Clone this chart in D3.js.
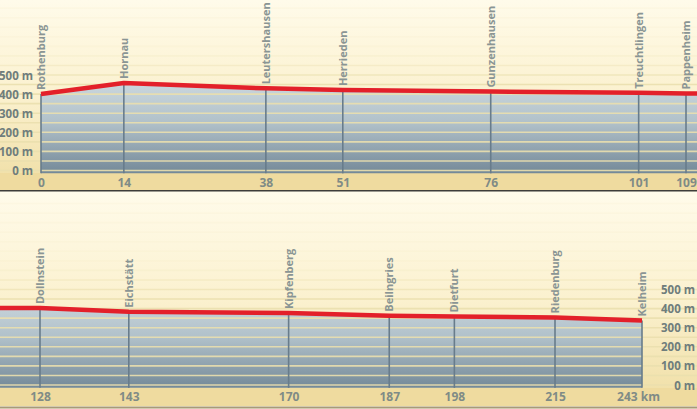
<!DOCTYPE html>
<html>
<head>
<meta charset="utf-8">
<script src="https://cdn.jsdelivr.net/npm/d3@7"></script>
<style>
  html, body { margin: 0; padding: 0; background: #fdf8e6; }
  svg { display: block; }
  text { font-family: "Open Sans", "Noto Sans", sans-serif; font-weight: 700; }
</style>
</head>
<body>
<svg id="chart" width="697" height="409"></svg>
<script>
// ---- data ----
const stations = ["Rothenburg","Hornau","Leutershausen","Herrieden","Gunzenhausen","Treuchtlingen","Pappenheim",
                  "Dollnstein","Eichstätt","Kipfenberg","Beilngries","Dietfurt","Riedenburg","Kelheim"];
const km        = [0, 14, 38, 51, 76, 101, 109, 128, 143, 170, 187, 198, 215, 243];
const elevation = [400, 458, 430, 421, 413, 407, 403, 403, 384, 377, 363, 358, 354, 338];
const elevTicks = [0, 100, 200, 300, 400, 500];
const stripeLevels = d3.range(0, 951, 50);
const topKm = [0, 14, 38, 51, 76, 101, 109];
const bottomKm = [128, 143, 170, 187, 198, 215, 243];

const points = stations.map((s, i) => ({ name: s, km: km[i], elev: elevation[i] }));

const W = 697;
const svg = d3.select("#chart");
const defs = svg.append("defs");

const panels = [
  { id: "top", y0: 0, y1: 190, xDomain: [0, 109], xRange: [41, 686],
    yRange: [170.5, 75], ticks: topKm, axisSide: "left", axisX: 33, tickY: 183,
    band: [173, 190], stations: topKm },
  { id: "bot", y0: 192, y1: 406, xDomain: [128, 215, 243], xRange: [40, 555, 642],
    yRange: [385, 289.5], ticks: bottomKm, axisSide: "right", axisX: 695, tickY: 397,
    band: [388, 406], stations: bottomKm }
];

panels.forEach(p => {
  const x = d3.scaleLinear().domain(p.xDomain).range(p.xRange);
  const y = d3.scaleLinear().domain([0, 500]).range(p.yRange);
  const base = -15;

  // gradients
  const bg = defs.append("linearGradient").attr("id", "bg-" + p.id)
    .attr("gradientUnits", "userSpaceOnUse").attr("x1", 0).attr("x2", 0)
    .attr("y1", p.y0).attr("y2", p.band[0]);
  bg.append("stop").attr("offset", 0).attr("stop-color", "#fffbea");
  bg.append("stop").attr("offset", 0.55).attr("stop-color", "#fbf1cf");
  bg.append("stop").attr("offset", 1).attr("stop-color", "#f1e1ab");

  const fg = defs.append("linearGradient").attr("id", "fill-" + p.id)
    .attr("gradientUnits", "userSpaceOnUse").attr("x1", 0).attr("x2", 0)
    .attr("y1", y(470)).attr("y2", y(base));
  fg.append("stop").attr("offset", 0).attr("stop-color", "#ccd8de");
  fg.append("stop").attr("offset", 0.45).attr("stop-color", "#b1c1ca");
  fg.append("stop").attr("offset", 1).attr("stop-color", "#748998");

  defs.append("clipPath").attr("id", "clip-" + p.id)
    .append("rect").attr("x", 0).attr("y", p.y0).attr("width", W).attr("height", p.y1 - p.y0);

  const g = svg.append("g").attr("clip-path", `url(#clip-${p.id})`);

  g.append("rect").attr("x", 0).attr("y", p.y0).attr("width", W).attr("height", p.y1 - p.y0)
    .attr("fill", `url(#bg-${p.id})`);
  // axis band
  g.append("rect").attr("x", 0).attr("y", p.band[0]).attr("width", W).attr("height", p.band[1] - p.band[0])
    .attr("fill", "#efdb9f");

  // area
  const area = d3.area().x(d => x(d.km)).y0(y(base)).y1(d => y(d.elev));
  const pts = p.id === "top" ? points.filter(d => d.km <= 128) : points.filter(d => d.km >= 109);
  g.append("path").datum(pts).attr("d", area).attr("fill", `url(#fill-${p.id})`);

  // stripes every 50 m
  g.selectAll("line.stripe").data(stripeLevels.filter(v => y(v) > p.y0)).join("line")
    .attr("class", "stripe")
    .attr("x1", 0).attr("x2", W)
    .attr("y1", d => y(d)).attr("y2", d => y(d))
    .attr("stroke", "#eadfae")
    .attr("stroke-width", 1.6)
    .attr("stroke-opacity", d => d <= 450 ? 0.9 : Math.max(0.1, 0.85 - (d - 450) / 220));

  // vertical station lines
  const st = points.filter(d => p.stations.includes(d.km));
  g.selectAll("line.vl").data(st).join("line")
    .attr("class", "vl")
    .attr("x1", d => x(d.km)).attr("x2", d => x(d.km))
    .attr("y1", d => y(d.elev)).attr("y2", y(base))
    .attr("stroke", "#687c8b").attr("stroke-width", 1.6);

  // profile line
  const line = d3.line().x(d => x(d.km)).y(d => y(d.elev));
  g.append("path").datum(pts).attr("d", line)
    .attr("fill", "none").attr("stroke", "#e3202a").attr("stroke-width", 4.5)
    .attr("stroke-linejoin", "round");

  // station names
  g.selectAll("text.st").data(st).join("text")
    .attr("class", "st")
    .attr("transform", d => `translate(${x(d.km)},${y(d.elev) - 4}) rotate(-90)`)
    .attr("dy", "0.36em")
    .attr("text-anchor", "start")
    .attr("font-size", 11)
    .attr("fill", "#8a9594")
    .text(d => d.name);

  // km axis
  const xa = d3.axisBottom(x).tickValues(p.ticks).tickSize(0).tickPadding(0)
    .tickFormat(d => d === 243 ? "243 km" : d);
  const gx = g.append("g").attr("transform", `translate(0,${p.tickY})`).call(xa);
  gx.select(".domain").remove();
  gx.selectAll("text").attr("dy", "0.35em").attr("font-size", 12)
    .attr("font-family", null).attr("fill", "#7f8b86")
    .attr("dx", d => d === 243 ? -4 : 0);

  // elevation axis
  const ya = (p.axisSide === "left" ? d3.axisLeft(y) : d3.axisRight(y))
    .tickValues(elevTicks).tickSize(0).tickPadding(0).tickFormat(d => d + " m");
  const gy = g.append("g").attr("transform", `translate(${p.axisX},0)`).call(ya);
  gy.select(".domain").remove();
  gy.selectAll("text").attr("font-size", 11.5).attr("font-family", null)
    .attr("fill", "#6f7d7c").attr("text-anchor", "end")
    .attr("x", 0).attr("dy", "0.35em");
});

// separators
svg.append("line").attr("x1", 0).attr("x2", W).attr("y1", 190.8).attr("y2", 190.8)
  .attr("stroke", "#3d3d3a").attr("stroke-width", 1.6);
svg.append("line").attr("x1", 0).attr("x2", W).attr("y1", 407.5).attr("y2", 407.5)
  .attr("stroke", "#a89a78").attr("stroke-width", 2);
</script>
</body>
</html>
